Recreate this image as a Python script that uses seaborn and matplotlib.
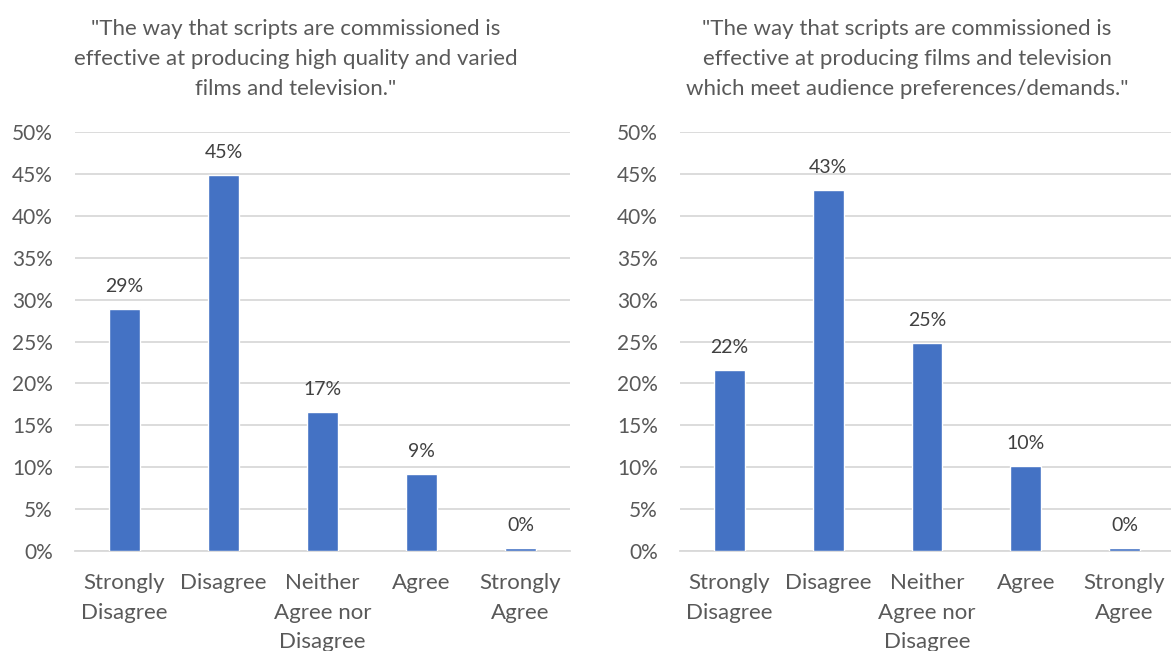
import matplotlib
matplotlib.use('Agg')
from matplotlib import pyplot as plt
import seaborn as sns
import pandas as pd

# survey answers
categories = ['Strongly\nDisagree', 'Disagree', 'Neither\nAgree nor\nDisagree', 'Agree', 'Strongly\nAgree']
quality_values = [0.289, 0.449, 0.166, 0.092, 0.004]
audience_values = [0.216, 0.431, 0.248, 0.101, 0.004]
titles = [
    '"The way that scripts are commissioned is\neffective at producing high quality and varied\nfilms and television."',
    '"The way that scripts are commissioned is\neffective at producing films and television\nwhich meet audience preferences/demands."',
]
y_ticks = [0, 0.05, 0.10, 0.15, 0.20, 0.25, 0.30, 0.35, 0.40, 0.45, 0.50]

sns.set_style('white')
plt.rcParams['font.family'] = ['Lato', 'DejaVu Sans']

bar_color = '#4472C4'
text_color = '#595959'
grid_color = '#D9D9D9'

fig = plt.figure(figsize=(11.71, 6.51), dpi=100)
W, H = 1171, 651
# axes boxes in pixels: left, top, right, bottom
boxes = [(75, 132, 570, 551), (680, 132, 1174, 551)]
title_x = [296, 907]

for box, values, title, tx in zip(boxes, [quality_values, audience_values], titles, title_x):
    l, t, r, b = box
    ax = fig.add_axes([l / W, 1 - b / H, (r - l) / W, (b - t) / H])
    df = pd.DataFrame({'answer': categories, 'share': values})
    sns.barplot(data=df, x='answer', y='share', color=bar_color, saturation=1,
                width=0.31, ax=ax, zorder=3)
    ax.set_ylim(0, 0.5)
    ax.set_xlim(-0.5, 4.5)
    ax.set_yticks(y_ticks)
    ax.set_yticklabels([f'{int(round(v * 100))}%' for v in y_ticks])
    ax.yaxis.grid(True, color=grid_color, linewidth=1.3, zorder=0)
    ax.set_axisbelow(True)
    for s in ['top', 'right', 'left']:
        ax.spines[s].set_visible(False)
    ax.spines['bottom'].set_color(grid_color)
    ax.spines['bottom'].set_linewidth(1.3)
    ax.set_xlabel('')
    ax.set_ylabel('')
    ax.tick_params(axis='both', length=0, colors=text_color)
    ax.tick_params(axis='y', labelsize=15, pad=16)
    ax.tick_params(axis='x', labelsize=16, pad=16)
    for lab in ax.get_xticklabels():
        lab.set_linespacing(1.6)
    ax.bar_label(ax.containers[0], labels=[f'{v * 100:.0f}%' for v in values],
                 padding=10, fontsize=14, color='#404040')
    fig.text(tx / W, 1 - 59 / H, title, ha='center', va='center', fontsize=16,
             color=text_color, linespacing=1.6)

fig.savefig('out.png', dpi=100)
